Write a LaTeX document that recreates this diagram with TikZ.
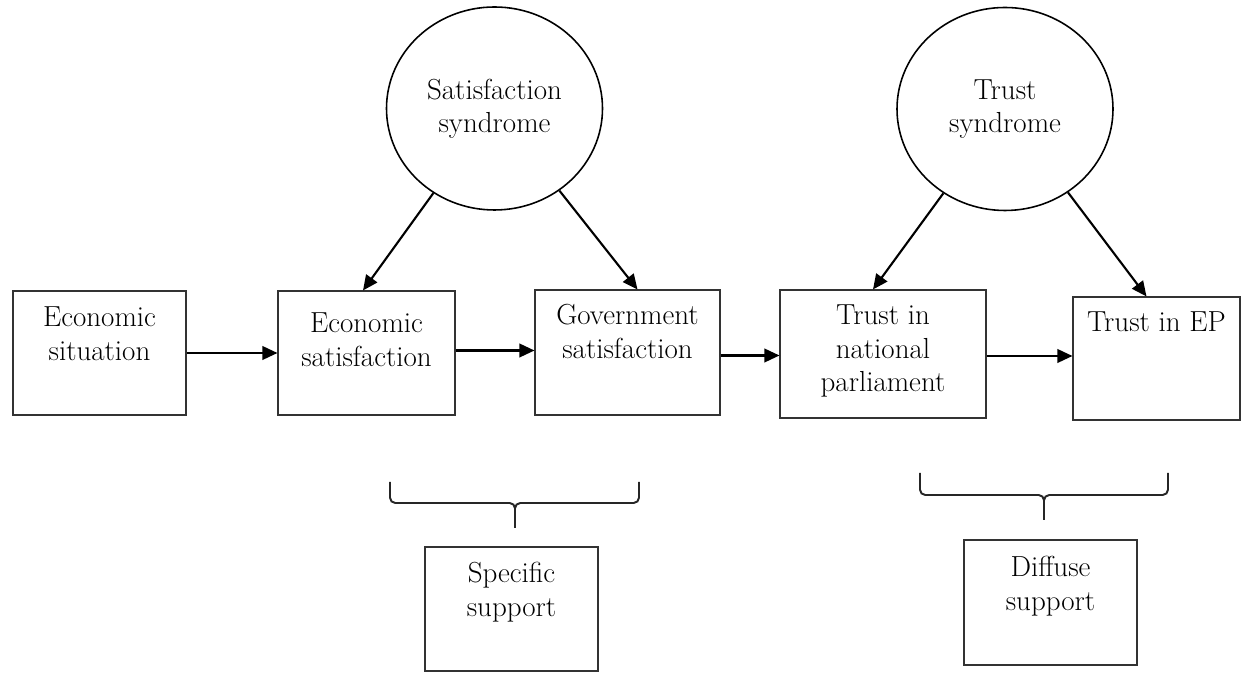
\documentclass[tikz,border=0pt]{standalone}
\usepackage{amsmath, amssymb, tikz}
\usetikzlibrary{shapes.geometric, arrows.meta}

\newcommand{\boxtxt}[4][0.72cm]{\parbox[t][#3][t]{#2}{\centering\rule{0pt}{#1}#4}}

\tikzset{
  box/.style={draw=black!80, line width=0.6pt, rectangle, inner sep=0pt},
  syn/.style={draw, line width=0.9pt, ellipse, minimum width=4.32cm, minimum height=4.06cm, align=center},
  arr/.style={line width=1.2pt, -{Triangle[length=0.3cm, width=0.27cm]}},
  brc/.style={line width=1.1pt, draw=black!85, rounded corners=3pt}
}

\begin{document}
\begin{tikzpicture}[font=\fontsize{16.5}{18.8}\selectfont]
        \useasboundingbox (0,0) rectangle (24.96,13.6);

        \node[syn] (satsyn) at (9.89,11.43) {Satisfaction\\syndrome};
        \node[syn] (trustsyn) at (20.10,11.42) {Trust\\syndrome};

        \node[box] (econsit) at (1.99,6.54) {\boxtxt{3.46cm}{2.48cm}{Economic\\situation}};
        \node[box] (econsat) at (7.33,6.54) {\boxtxt[0.84cm]{3.54cm}{2.48cm}{Economic\\satisfaction}};
        \node[box] (govsat) at (12.55,6.55) {\boxtxt[0.70cm]{3.70cm}{2.50cm}{Government\\satisfaction}};
        \node[box] (trustnp) at (17.66,6.52) {\boxtxt[0.70cm]{4.12cm}{2.56cm}{Trust in\\national\\parliament}};
        \node[box] (trustep) at (23.13,6.43) {\boxtxt[0.70cm]{3.34cm}{2.46cm}{Trust in EP}};

        \node[box] (specific) at (10.23,1.42) {\boxtxt{3.46cm}{2.48cm}{Specific\\support}};
        \node[box] (diffuse) at (21.01,1.55) {\boxtxt[0.74cm]{3.46cm}{2.50cm}{Diffuse\\support}};

        \draw[arr] (econsit.east) -- (econsat.west);
        \draw[arr] ([yshift=0.05cm]econsat.east) -- ([yshift=0.05cm]econsat.east -| govsat.west);
        \draw[arr] ([yshift=-0.06cm]govsat.east) -- ([yshift=-0.06cm]govsat.east -| trustnp.west);
        \draw[arr] ([yshift=-0.04cm]trustnp.east) -- ([yshift=-0.04cm]trustnp.east -| trustep.west);

        \draw[arr] (satsyn) -- ([xshift=-0.07cm]econsat.north);
        \draw[arr] (satsyn) -- ([xshift=0.2cm]govsat.north);
        \draw[arr] (trustsyn) -- ([xshift=-0.2cm]trustnp.north);
        \draw[arr] (trustsyn) -- ([xshift=-0.2cm]trustep.north);

        % braces
        \draw[brc] (7.80,3.96) -- (7.80,3.54) -- (10.30,3.54) -- (10.30,3.04);
        \draw[brc] (12.78,3.96) -- (12.78,3.54) -- (10.30,3.54) -- (10.30,3.04);
        \draw[brc] (18.40,4.14) -- (18.40,3.70) -- (20.88,3.70) -- (20.88,3.20);
        \draw[brc] (23.36,4.14) -- (23.36,3.70) -- (20.88,3.70) -- (20.88,3.20);
      \end{tikzpicture}
\end{document}
